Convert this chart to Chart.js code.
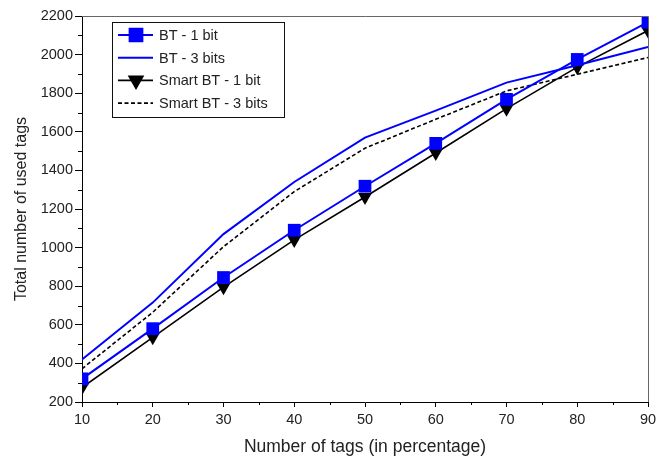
<!DOCTYPE html>
<html>
<head>
<meta charset="utf-8">
<script src="https://cdn.jsdelivr.net/npm/chart.js@4"></script>
<style>
  body { margin: 0; background: #fff; }
  #wrap { width: 665px; height: 456px; }
</style>
</head>
<body>
<div id="wrap"><canvas id="tagsChart" width="665" height="456"></canvas></div>
<script>
// values
const tagPercent = [10, 20, 30, 40, 50, 60, 70, 80, 90];
const bt1bit = [320, 580, 845, 1090, 1318, 1540, 1768, 1975, 2168];
const bt3bits = [420, 715, 1070, 1340, 1570, 1710, 1855, 1945, 2040];
const smart1bit = [275, 535, 795, 1040, 1262, 1490, 1720, 1935, 2125];
const smart3bits = [372, 665, 1005, 1290, 1515, 1665, 1812, 1898, 1985];

const textColor = "#222";
Chart.defaults.font.family = "'Liberation Sans', Arial, sans-serif";
Chart.defaults.font.size = 14.5;
Chart.defaults.color = textColor;

function points(values) {
  return values.map((v, i) => ({ x: tagPercent[i], y: v }));
}

const isMajorX = v => v % 10 === 0;
const isMajorY = v => v % 200 === 0;

// gray top/right edges of the plot frame + short minor ticks
const frame = {
  id: "frame",
  afterDatasetsDraw(chart) {
    const { ctx, chartArea: a } = chart;
    const xs = chart.scales.x, ys = chart.scales.y;
    ctx.save();
    ctx.strokeStyle = "#666";
    ctx.lineWidth = 1;
    ctx.beginPath();
    ctx.moveTo(a.left, a.top + 0.5);
    ctx.lineTo(a.right + 0.5, a.top + 0.5);
    ctx.lineTo(a.right + 0.5, a.bottom);
    ctx.stroke();

    ctx.strokeStyle = "#000";
    ctx.beginPath();
    xs.ticks.forEach(t => {
      if (isMajorX(t.value)) return;
      const px = Math.round(xs.getPixelForValue(t.value)) + 0.5;
      ctx.moveTo(px, a.bottom);
      ctx.lineTo(px, a.bottom + 3);
    });
    ys.ticks.forEach(t => {
      if (isMajorY(t.value)) return;
      const py = Math.round(ys.getPixelForValue(t.value)) + 0.5;
      ctx.moveTo(a.left, py);
      ctx.lineTo(a.left - 4, py);
    });
    ctx.stroke();
    ctx.restore();
  }
};

// legend box inside the plot, upper left
const boxLegend = {
  id: "boxLegend",
  afterDraw(chart) {
    const { ctx } = chart;
    const x0 = 112, y0 = 22, w = 172, h = 95;
    ctx.save();
    ctx.fillStyle = "#fff";
    ctx.fillRect(x0, y0, w, h);
    ctx.strokeStyle = "#111";
    ctx.lineWidth = 1;
    ctx.strokeRect(x0 + 0.5, y0 + 0.5, w, h);
    chart.data.datasets.forEach((ds, i) => {
      const y = y0 + 13 + i * 22.7;
      ctx.strokeStyle = ds.borderColor;
      ctx.lineWidth = ds.borderWidth;
      ctx.setLineDash(ds.borderDash || []);
      ctx.beginPath();
      ctx.moveTo(118, y);
      ctx.lineTo(153, y);
      ctx.stroke();
      ctx.setLineDash([]);
      if (ds.pointRadius > 0) {
        Chart.helpers.drawPoint(ctx, {
          pointStyle: ds.pointStyle,
          radius: ds.pointRadius,
          rotation: ds.pointRotation || 0,
          borderWidth: 1
        }, 136, y);
        ctx.fillStyle = ds.pointBackgroundColor;
        ctx.strokeStyle = ds.pointBorderColor;
        ctx.fill();
      }
      ctx.fillStyle = textColor;
      ctx.font = "14.5px 'Liberation Sans', Arial, sans-serif";
      ctx.textBaseline = "middle";
      ctx.fillText(ds.label, 159, y + 1);
    });
    ctx.restore();
  }
};

new Chart(document.getElementById("tagsChart"), {
  type: "line",
  data: {
    datasets: [
      {
        label: "BT - 1 bit",
        data: points(bt1bit),
        borderColor: "#0000ff",
        borderWidth: 2,
        pointStyle: "rect",
        pointRadius: 9,
        pointBackgroundColor: "#0000ff",
        pointBorderColor: "#0000ff",
        pointBorderWidth: 0,
        clip: 0
      },
      {
        label: "BT - 3 bits",
        data: points(bt3bits),
        borderColor: "#0000ff",
        borderWidth: 2,
        pointRadius: 0,
        clip: 0
      },
      {
        label: "Smart BT - 1 bit",
        data: points(smart1bit),
        borderColor: "#000",
        borderWidth: 1.6,
        pointStyle: "triangle",
        pointRotation: 180,
        pointRadius: 8,
        pointBackgroundColor: "#000",
        pointBorderColor: "#000",
        pointBorderWidth: 0,
        clip: 0
      },
      {
        label: "Smart BT - 3 bits",
        data: points(smart3bits),
        borderColor: "#000",
        borderWidth: 1.6,
        borderDash: [4, 2.5],
        pointRadius: 0,
        clip: 0
      }
    ]
  },
  options: {
    responsive: false,
    animation: false,
    layout: { padding: { top: 16, right: 17, left: 0, bottom: 0 } },
    plugins: { legend: { display: false }, tooltip: { enabled: false } },
    scales: {
      x: {
        type: "linear",
        min: 10,
        max: 90,
        border: { color: "#000", width: 1 },
        grid: {
          drawOnChartArea: false,
          tickLength: 5,
          tickColor: c => (isMajorX(c.tick.value) ? "#000" : "rgba(0,0,0,0)")
        },
        ticks: {
          stepSize: 5,
          autoSkip: false,
          maxRotation: 0,
          padding: 4,
          callback: v => (isMajorX(v) ? v : "")
        },
        title: {
          display: true,
          text: "Number of tags (in percentage)",
          font: { size: 17.5, lineHeight: 1 },
          padding: { top: 9, bottom: 0 }
        },
        afterFit(scale) { scale.height = 54; }
      },
      y: {
        min: 200,
        max: 2200,
        border: { color: "#000", width: 1 },
        grid: {
          drawOnChartArea: false,
          tickLength: 7,
          tickColor: c => (isMajorY(c.tick.value) ? "#000" : "rgba(0,0,0,0)")
        },
        ticks: {
          stepSize: 100,
          autoSkip: false,
          padding: 2,
          callback: v => (isMajorY(v) ? v : "")
        },
        title: { display: true, text: "Total number of used tags", font: { size: 16 }, padding: { top: 12, bottom: 4 } },
        afterFit(scale) { scale.width = 82; }
      }
    }
  },
  plugins: [frame, boxLegend]
});
</script>
</body>
</html>
